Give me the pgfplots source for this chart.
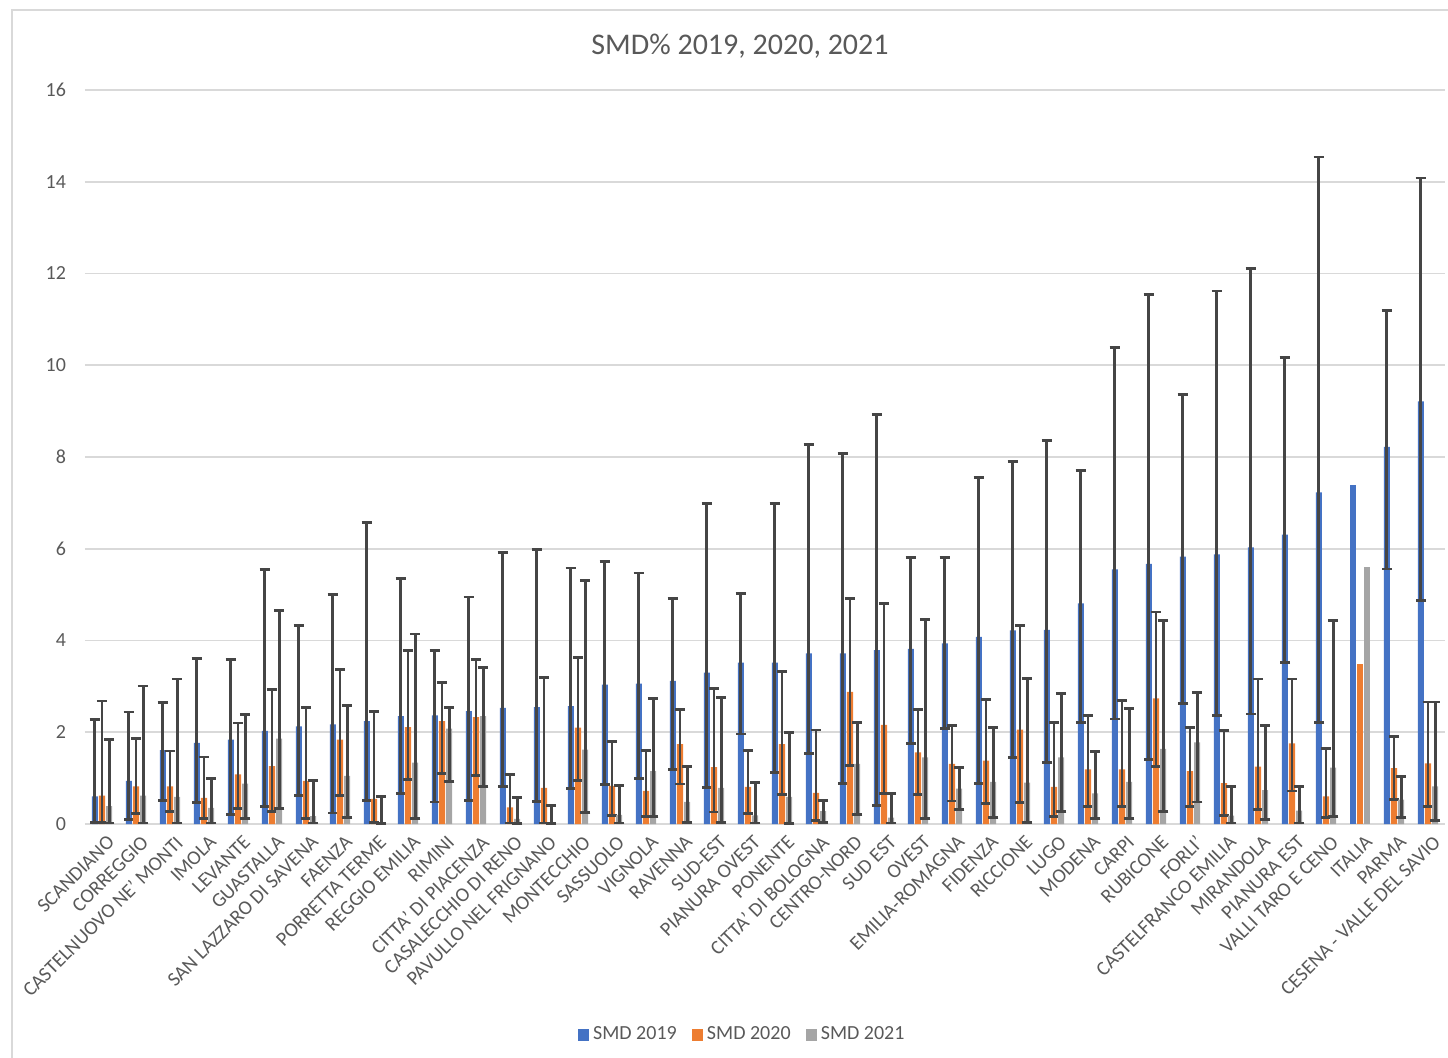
\documentclass[border=0pt]{standalone}
\usepackage{pgfplots}
\pgfplotsset{compat=1.18}
\usepackage{pgfplotstable}
\usepackage{fontspec}
\setmainfont{Carlito}
\definecolor{cA}{HTML}{4472C4}
\definecolor{cB}{HTML}{ED7D31}
\definecolor{cC}{HTML}{A5A5A5}
\definecolor{errc}{HTML}{454545}
\definecolor{txt}{HTML}{595959}
\definecolor{gridc}{HTML}{D9D9D9}

\pgfplotstableread{
x y lo hi
0 0.60 0.03 2.28
1 0.94 0.10 2.44
2 1.61 0.52 2.65
3 1.77 0.47 3.60
4 1.84 0.20 3.59
5 2.03 0.39 5.55
6 2.13 0.63 4.32
7 2.17 0.24 5.01
8 2.24 0.52 6.58
9 2.35 0.66 5.35
10 2.37 0.48 3.79
11 2.46 0.52 4.95
12 2.53 0.82 5.92
13 2.55 0.49 5.98
14 2.57 0.77 5.58
15 3.04 0.86 5.73
16 3.06 1.00 5.47
17 3.12 1.19 4.92
18 3.30 0.79 6.99
19 3.52 1.96 5.02
20 3.52 1.13 6.99
21 3.72 1.53 8.28
22 3.72 0.89 8.07
23 3.79 0.41 8.92
24 3.82 1.76 5.81
25 3.94 2.09 5.81
26 4.08 0.89 7.56
27 4.22 1.45 7.91
28 4.23 1.34 8.36
29 4.81 2.22 7.71
30 5.55 2.29 10.38
31 5.67 1.40 11.55
32 5.83 2.62 9.36
33 5.88 2.37 11.62
34 6.03 2.40 12.11
35 6.31 3.52 10.17
36 7.23 2.21 14.54
38 8.22 5.56 11.20
39 9.21 4.88 14.08
}\tA

\pgfplotstableread{
x y lo hi
0 0.62 0.03 2.68
1 0.82 0.23 1.86
2 0.82 0.27 1.59
3 0.57 0.12 1.46
4 1.08 0.33 2.20
5 1.26 0.27 2.94
6 0.94 0.12 2.54
7 1.84 0.62 3.36
8 0.55 0.03 2.46
9 2.11 0.97 3.79
10 2.24 1.10 3.09
11 2.33 1.06 3.59
12 0.36 0.02 1.08
13 0.79 0.02 3.19
14 2.10 0.95 3.63
15 0.83 0.18 1.80
16 0.72 0.17 1.61
17 1.74 0.87 2.49
18 1.24 0.26 2.96
19 0.81 0.23 1.60
20 1.74 0.65 3.32
21 0.68 0.07 2.05
22 2.88 1.27 4.92
23 2.16 0.67 4.81
24 1.56 0.65 2.50
25 1.31 0.50 2.14
26 1.38 0.44 2.72
27 2.06 0.47 4.33
28 0.81 0.17 2.21
29 1.19 0.39 2.36
30 1.19 0.39 2.70
31 2.74 1.26 4.62
32 1.15 0.38 2.11
33 0.89 0.19 2.03
34 1.25 0.31 3.16
35 1.76 0.72 3.16
36 0.60 0.14 1.65
38 1.22 0.53 1.90
39 1.32 0.38 2.66
}\tB

\pgfplotstableread{
x y lo hi
0 0.39 0.02 1.84
1 0.62 0.02 3.01
2 0.59 0.02 3.16
3 0.35 0.02 0.99
4 0.88 0.12 2.39
5 1.86 0.34 4.66
6 0.17 0.02 0.94
7 1.05 0.15 2.59
8 0.03 0.01 0.60
9 1.34 0.12 4.14
10 2.08 0.93 2.54
11 2.35 0.81 3.42
12 0.11 0.01 0.58
13 0.03 0.01 0.41
14 1.62 0.25 5.31
15 0.20 0.02 0.84
16 1.15 0.17 2.73
17 0.48 0.04 1.25
18 0.79 0.04 2.76
19 0.19 0.02 0.90
20 0.59 0.01 2.00
21 0.28 0.04 0.52
22 1.31 0.20 2.21
23 0.14 0.02 0.67
24 1.45 0.12 4.46
25 0.77 0.32 1.24
26 0.92 0.15 2.11
27 0.90 0.03 3.17
28 1.45 0.28 2.85
29 0.67 0.12 1.58
30 0.92 0.12 2.51
31 1.64 0.28 4.44
32 1.78 0.48 2.86
33 0.18 0.02 0.82
34 0.74 0.09 2.14
35 0.29 0.02 0.82
36 1.23 0.16 4.44
38 0.53 0.14 1.04
39 0.82 0.07 2.66
}\tC

\pgfplotsset{
  errstyle/.style={
    error bars/.cd, y dir=both, y explicit,
    error bar style={line width=1.4pt, draw=errc},
    error mark options={rotate=90, line width=1.4pt, mark size=2.6pt, draw=errc}
  }
}

\begin{document}
\begin{tikzpicture}[x=1pt,y=1pt]
\useasboundingbox (-42.5,-116.5) rectangle (681.5,412);
\draw[gridc, line width=0.8pt] (-36.5,-130) -- (-36.5,407) -- (700,407);
\begin{axis}[
  at={(0,0)}, anchor=south west,
  scale only axis, width=680pt, height=367pt,
  xmin=-0.5, xmax=39.5, ymin=0, ymax=16,
  ybar, bar width=0.18,
  xtick={0,...,39},
  xticklabels={SCANDIANO,CORREGGIO,CASTELNUOVO NE' MONTI,IMOLA,LEVANTE,GUASTALLA,SAN LAZZARO DI SAVENA,FAENZA,PORRETTA TERME,REGGIO EMILIA,RIMINI,CITTA' DI PIACENZA,CASALECCHIO DI RENO,PAVULLO NEL FRIGNANO,MONTECCHIO,SASSUOLO,VIGNOLA,RAVENNA,SUD-EST,PIANURA OVEST,PONENTE,CITTA' DI BOLOGNA,CENTRO-NORD,SUD EST,OVEST,EMILIA-ROMAGNA,FIDENZA,RICCIONE,LUGO,MODENA,CARPI,RUBICONE,FORLI',CASTELFRANCO EMILIA,MIRANDOLA,PIANURA EST,VALLI TARO E CENO,ITALIA,PARMA,CESENA - VALLE DEL SAVIO},
  xticklabel style={rotate=45, anchor=north east, font=\fontsize{10}{12}\selectfont, text=txt, inner sep=1pt, yshift=-4pt, xshift=-1pt},
  ytick={0,2,...,16},
  yticklabel style={font=\fontsize{10}{12}\selectfont, text=txt, xshift=-6pt},
  /pgf/number format/assume math mode=true,
  ymajorgrids, grid style={draw=gridc, line width=0.8pt},
  axis line style={draw=none}, major tick length=0pt,
  clip=false,
  legend style={at={(axis description cs:0.484,0)}, anchor=center, yshift=-105.5pt,
    legend columns=3, draw=none, fill=none, font=\fontsize{10}{12}\selectfont, text=txt,
    /tikz/every even column/.append style={column sep=5.5pt}},
  legend image code/.code={\fill[#1] (0pt,-2.8pt) rectangle (5.6pt,2.8pt);},
]
\addplot[fill=cA, draw=none, bar shift=-0.21, forget plot, errstyle]
  table[x=x, y=y, y error plus expr=\thisrow{hi}-\thisrow{y}, y error minus expr=\thisrow{y}-\thisrow{lo}] {\tA};
\addplot[fill=cB, draw=none, bar shift=0, forget plot, errstyle]
  table[x=x, y=y, y error plus expr=\thisrow{hi}-\thisrow{y}, y error minus expr=\thisrow{y}-\thisrow{lo}] {\tB};
\addplot[fill=cC, draw=none, bar shift=0.21, forget plot, errstyle]
  table[x=x, y=y, y error plus expr=\thisrow{hi}-\thisrow{y}, y error minus expr=\thisrow{y}-\thisrow{lo}] {\tC};
% ITALIA (no error bars)
\addplot[fill=cA, draw=none, bar shift=-0.21, forget plot] coordinates {(37,7.38)};
\addplot[fill=cB, draw=none, bar shift=0, forget plot] coordinates {(37,3.48)};
\addplot[fill=cC, draw=none, bar shift=0.21, forget plot] coordinates {(37,5.60)};
\addlegendimage{fill=cA, draw=none}
\addlegendimage{fill=cB, draw=none}
\addlegendimage{fill=cC, draw=none}
\legend{SMD 2019, SMD 2020, SMD 2021}
\end{axis}
\node[font=\fontsize{15}{18}\selectfont, text=txt] at (327.5,389) {SMD\% 2019, 2020, 2021};
\end{tikzpicture}
\end{document}
